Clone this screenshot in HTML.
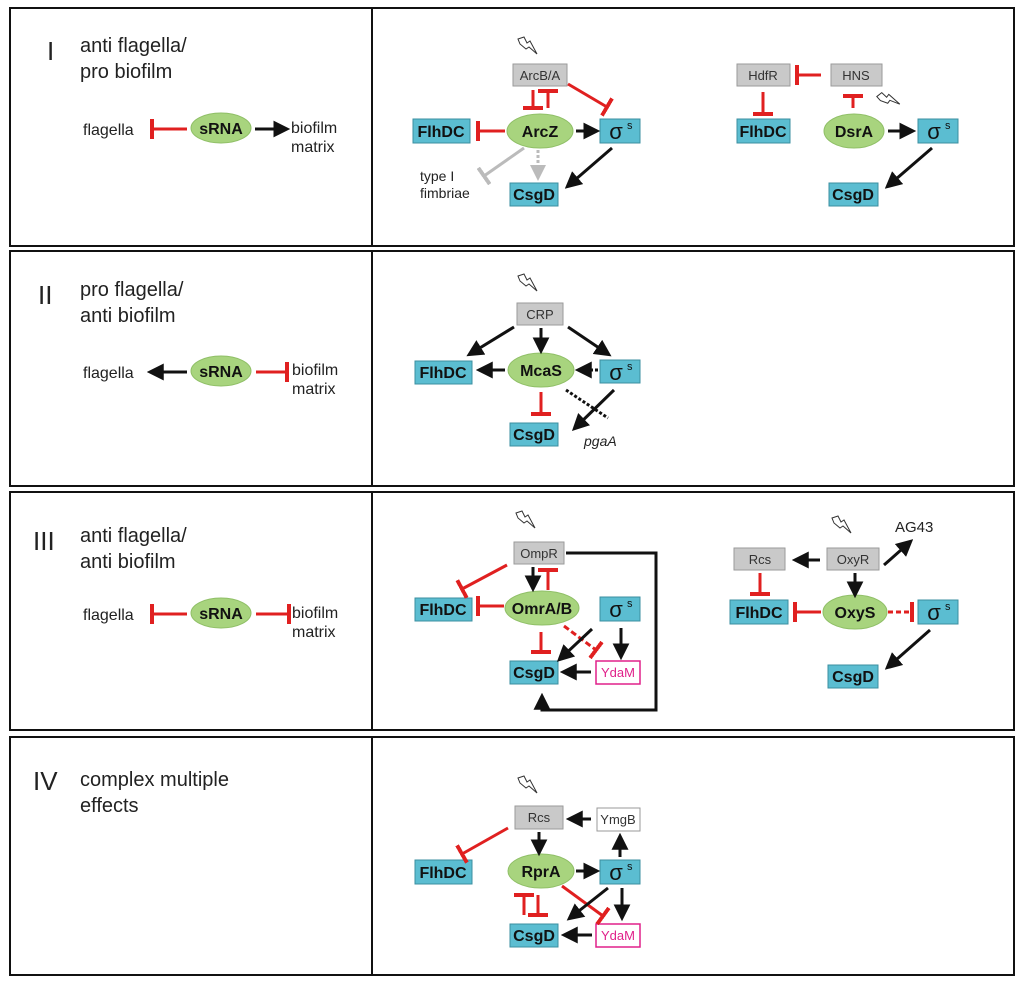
<!DOCTYPE html>
<html><head><meta charset="utf-8"><style>
html,body{margin:0;padding:0;background:#fff}
svg{display:block}
text{font-family:"Liberation Sans",Arial,sans-serif}
.bb{fill:#5bbdd1;stroke:#3b8fa0;stroke-width:1}
.gb{fill:#c9c9c9;stroke:#9a9a9a;stroke-width:1}
.el{fill:#a8d47e;stroke:#8fbf66;stroke-width:1}
.bt{font-size:16px;font-weight:bold;fill:#111;text-anchor:middle}
.gt{font-size:13px;fill:#333;text-anchor:middle}
.a{stroke:#111;stroke-width:3;fill:none;marker-end:url(#ar)}
.t{stroke:#e02020;stroke-width:3;fill:none;marker-end:url(#tb)}
.big{font-size:20px;fill:#222}
.rn{font-size:26px;fill:#222}
.sm{font-size:16px;fill:#222}
</style></head><body>
<svg width="1024" height="986" viewBox="0 0 1024 986" xmlns="http://www.w3.org/2000/svg">
<defs>
<marker id="ar" viewBox="0 0 16 16" refX="12" refY="8" markerWidth="17" markerHeight="17" markerUnits="userSpaceOnUse" orient="auto"><path d="M0,0 L16,8 L0,16 z" fill="#111"/></marker>
<marker id="ag" viewBox="0 0 16 16" refX="12" refY="8" markerWidth="16" markerHeight="16" markerUnits="userSpaceOnUse" orient="auto"><path d="M0,0 L16,8 L0,16 z" fill="#bbb"/></marker>
<marker id="tb" viewBox="0 0 4 20" refX="2" refY="10" markerWidth="4" markerHeight="20" markerUnits="userSpaceOnUse" orient="auto"><rect x="0" y="0" width="4" height="20" fill="#e02020"/></marker>
<marker id="tg" viewBox="0 0 4 20" refX="2" refY="10" markerWidth="4" markerHeight="20" markerUnits="userSpaceOnUse" orient="auto"><rect x="0" y="0" width="4" height="20" fill="#bbb"/></marker>
<symbol id="lg" viewBox="0 0 24 22"><path d="M3,3 L9,1 L12,7 L15,5 L22,18 L14,11 L11,13 L5,8 z" fill="#fff" stroke="#333" stroke-width="1"/></symbol>
</defs>

<g fill="none" stroke="#111" stroke-width="2">
<rect x="10" y="8" width="1004" height="238"/>
<rect x="10" y="251" width="1004" height="235"/>
<rect x="10" y="492" width="1004" height="238"/>
<rect x="10" y="737" width="1004" height="238"/>
<line x1="372" y1="8" x2="372" y2="246"/>
<line x1="372" y1="251" x2="372" y2="486"/>
<line x1="372" y1="492" x2="372" y2="730"/>
<line x1="372" y1="737" x2="372" y2="975"/>
</g>

<!-- Panel I -->
<text x="47" y="60" class="rn">I</text>
<text x="80" y="52" class="big">anti flagella/</text>
<text x="80" y="78" class="big">pro biofilm</text>
<text x="83" y="135" class="sm">flagella</text>
<line x1="187" y1="129" x2="152" y2="129" class="t"/>
<ellipse cx="221" cy="128" rx="30" ry="15" class="el"/><text x="221" y="134" class="bt">sRNA</text>
<line x1="255" y1="129" x2="286" y2="129" class="a"/>
<text x="291" y="133" class="sm">biofilm</text><text x="291" y="152" class="sm">matrix</text>

<use href="#lg" x="515" y="36" width="24" height="22"/>
<rect x="513" y="64" width="54" height="22" class="gb"/><text x="540" y="80" class="gt">ArcB/A</text>
<rect x="413" y="119" width="57" height="24" class="bb"/><text x="441" y="137" class="bt">FlhDC</text>
<ellipse cx="540" cy="131" rx="33" ry="17" class="el"/><text x="540" y="137" class="bt">ArcZ</text>
<rect x="600" y="119" width="40" height="24" class="bb"/><text x="616" y="139" style="font-size:22px;fill:#111;text-anchor:middle">σ</text><text x="627" y="129" style="font-size:11px;fill:#111">s</text>
<rect x="510" y="183" width="48" height="23" class="bb"/><text x="534" y="200" class="bt">CsgD</text>
<text x="420" y="181" class="sm" style="font-size:14px">type I</text><text x="420" y="198" class="sm" style="font-size:14px">fimbriae</text>
<line x1="533" y1="90" x2="533" y2="108" class="t"/>
<line x1="548" y1="108" x2="548" y2="91" class="t"/>
<line x1="568" y1="84" x2="607" y2="107" class="t"/>
<line x1="505" y1="131" x2="478" y2="131" class="t"/>
<line x1="576" y1="131" x2="596" y2="131" class="a"/>
<line x1="524" y1="148" x2="484" y2="176" stroke="#bbb" stroke-width="3" marker-end="url(#tg)"/>
<line x1="538" y1="150" x2="538" y2="177" stroke="#bbb" stroke-width="3" stroke-dasharray="3,2" marker-end="url(#ag)"/>
<line x1="612" y1="148" x2="568" y2="186" class="a"/>

<rect x="737" y="64" width="53" height="22" class="gb"/><text x="763" y="80" class="gt">HdfR</text>
<rect x="831" y="64" width="51" height="22" class="gb"/><text x="856" y="80" class="gt">HNS</text>
<line x1="821" y1="75" x2="797" y2="75" class="t"/>
<line x1="763" y1="92" x2="763" y2="114" class="t"/>
<line x1="853" y1="108" x2="853" y2="96" class="t"/>
<use href="#lg" x="876" y="90" width="24" height="22" transform="rotate(-20 888 101)"/>
<rect x="737" y="119" width="53" height="24" class="bb"/><text x="763" y="137" class="bt">FlhDC</text>
<ellipse cx="854" cy="131" rx="30" ry="17" class="el"/><text x="854" y="137" class="bt">DsrA</text>
<line x1="888" y1="131" x2="912" y2="131" class="a"/>
<rect x="918" y="119" width="40" height="24" class="bb"/><text x="934" y="139" style="font-size:22px;fill:#111;text-anchor:middle">σ</text><text x="945" y="129" style="font-size:11px;fill:#111">s</text>
<rect x="829" y="183" width="49" height="23" class="bb"/><text x="853" y="200" class="bt">CsgD</text>
<line x1="932" y1="148" x2="888" y2="186" class="a"/>

<!-- Panel II -->
<text x="38" y="304" class="rn">II</text>
<text x="80" y="296" class="big">pro flagella/</text>
<text x="80" y="322" class="big">anti biofilm</text>
<text x="83" y="378" class="sm">flagella</text>
<line x1="187" y1="372" x2="151" y2="372" class="a"/>
<ellipse cx="221" cy="371" rx="30" ry="15" class="el"/><text x="221" y="377" class="bt">sRNA</text>
<line x1="256" y1="372" x2="287" y2="372" class="t"/>
<text x="292" y="375" class="sm">biofilm</text><text x="292" y="394" class="sm">matrix</text>

<use href="#lg" x="515" y="273" width="24" height="22"/>
<rect x="517" y="303" width="46" height="22" class="gb"/><text x="540" y="319" class="gt">CRP</text>
<rect x="415" y="361" width="57" height="23" class="bb"/><text x="443" y="378" class="bt">FlhDC</text>
<ellipse cx="541" cy="370" rx="33" ry="17" class="el"/><text x="541" y="376" class="bt">McaS</text>
<rect x="600" y="360" width="40" height="23" class="bb"/><text x="616" y="380" style="font-size:22px;fill:#111;text-anchor:middle">σ</text><text x="627" y="370" style="font-size:11px;fill:#111">s</text>
<rect x="510" y="423" width="48" height="23" class="bb"/><text x="534" y="440" class="bt">CsgD</text>
<text x="584" y="446" style="font-size:14px;font-style:italic;fill:#222">pgaA</text>
<line x1="514" y1="327" x2="470" y2="354" class="a"/>
<line x1="541" y1="328" x2="541" y2="350" class="a"/>
<line x1="568" y1="327" x2="608" y2="354" class="a"/>
<line x1="505" y1="370" x2="480" y2="370" class="a"/>
<line x1="598" y1="370" x2="579" y2="370" stroke="#111" stroke-width="3" stroke-dasharray="3,2" marker-end="url(#ar)"/>
<line x1="541" y1="392" x2="541" y2="414" class="t"/>
<line x1="566" y1="390" x2="608" y2="418" stroke="#111" stroke-width="3" stroke-dasharray="3,2"/>
<line x1="614" y1="390" x2="575" y2="428" class="a"/>

<!-- Panel III -->
<text x="33" y="550" class="rn">III</text>
<text x="80" y="542" class="big">anti flagella/</text>
<text x="80" y="568" class="big">anti biofilm</text>
<text x="83" y="620" class="sm">flagella</text>
<line x1="187" y1="614" x2="152" y2="614" class="t"/>
<ellipse cx="221" cy="613" rx="30" ry="15" class="el"/><text x="221" y="619" class="bt">sRNA</text>
<line x1="256" y1="614" x2="289" y2="614" class="t"/>
<text x="292" y="618" class="sm">biofilm</text><text x="292" y="637" class="sm">matrix</text>

<use href="#lg" x="513" y="510" width="24" height="22"/>
<rect x="514" y="542" width="50" height="22" class="gb"/><text x="539" y="558" class="gt">OmpR</text>
<rect x="415" y="598" width="57" height="23" class="bb"/><text x="443" y="615" class="bt">FlhDC</text>
<ellipse cx="542" cy="608" rx="37" ry="17" class="el"/><text x="542" y="614" class="bt">OmrA/B</text>
<rect x="600" y="597" width="40" height="24" class="bb"/><text x="616" y="617" style="font-size:22px;fill:#111;text-anchor:middle">σ</text><text x="627" y="607" style="font-size:11px;fill:#111">s</text>
<rect x="510" y="661" width="48" height="23" class="bb"/><text x="534" y="678" class="bt">CsgD</text>
<rect x="596" y="661" width="44" height="23" fill="#fff" stroke="#e0208a" stroke-width="1.5"/><text x="618" y="677" style="font-size:13px;fill:#e0208a;text-anchor:middle">YdaM</text>
<polyline points="566,553 656,553 656,710 542,710 542,697" stroke="#111" stroke-width="3" fill="none" marker-end="url(#ar)"/>
<line x1="533" y1="567" x2="533" y2="588" class="a"/>
<line x1="548" y1="590" x2="548" y2="570" class="t"/>
<line x1="507" y1="565" x2="462" y2="589" class="t"/>
<line x1="504" y1="606" x2="478" y2="606" class="t"/>
<line x1="541" y1="632" x2="541" y2="652" class="t"/>
<line x1="564" y1="626" x2="596" y2="650" stroke="#e02020" stroke-width="3" stroke-dasharray="6,3" marker-end="url(#tb)"/>
<line x1="592" y1="629" x2="560" y2="659" class="a"/>
<line x1="621" y1="628" x2="621" y2="656" class="a"/>
<line x1="591" y1="672" x2="564" y2="672" class="a"/>

<use href="#lg" x="829" y="515" width="24" height="22"/>
<text x="895" y="532" style="font-size:15px;fill:#222">AG43</text>
<rect x="734" y="548" width="51" height="22" class="gb"/><text x="760" y="564" class="gt">Rcs</text>
<rect x="827" y="548" width="52" height="22" class="gb"/><text x="853" y="564" class="gt">OxyR</text>
<rect x="730" y="600" width="58" height="24" class="bb"/><text x="759" y="618" class="bt">FlhDC</text>
<ellipse cx="855" cy="612" rx="32" ry="17" class="el"/><text x="855" y="618" class="bt">OxyS</text>
<rect x="918" y="600" width="40" height="24" class="bb"/><text x="934" y="620" style="font-size:22px;fill:#111;text-anchor:middle">σ</text><text x="945" y="610" style="font-size:11px;fill:#111">s</text>
<rect x="828" y="665" width="50" height="23" class="bb"/><text x="853" y="682" class="bt">CsgD</text>
<line x1="820" y1="560" x2="796" y2="560" class="a"/>
<line x1="884" y1="565" x2="910" y2="542" class="a"/>
<line x1="855" y1="573" x2="855" y2="594" class="a"/>
<line x1="760" y1="573" x2="760" y2="594" class="t"/>
<line x1="821" y1="612" x2="795" y2="612" class="t"/>
<line x1="888" y1="612" x2="912" y2="612" stroke="#e02020" stroke-width="3" stroke-dasharray="5,3" marker-end="url(#tb)"/>
<line x1="930" y1="630" x2="888" y2="667" class="a"/>

<!-- Panel IV -->
<text x="33" y="790" class="rn">IV</text>
<text x="80" y="786" class="big">complex multiple</text>
<text x="80" y="812" class="big">effects</text>

<use href="#lg" x="515" y="775" width="24" height="22"/>
<rect x="515" y="806" width="48" height="23" class="gb"/><text x="539" y="822" class="gt">Rcs</text>
<rect x="597" y="808" width="43" height="23" fill="#fff" stroke="#999" stroke-width="1"/><text x="618" y="824" class="gt">YmgB</text>
<rect x="415" y="860" width="57" height="24" class="bb"/><text x="443" y="878" class="bt">FlhDC</text>
<ellipse cx="541" cy="871" rx="33" ry="17" class="el"/><text x="541" y="877" class="bt">RprA</text>
<rect x="600" y="860" width="40" height="24" class="bb"/><text x="616" y="880" style="font-size:22px;fill:#111;text-anchor:middle">σ</text><text x="627" y="870" style="font-size:11px;fill:#111">s</text>
<rect x="510" y="924" width="48" height="23" class="bb"/><text x="534" y="941" class="bt">CsgD</text>
<rect x="596" y="924" width="44" height="23" fill="#fff" stroke="#e0208a" stroke-width="1.5"/><text x="618" y="940" style="font-size:13px;fill:#e0208a;text-anchor:middle">YdaM</text>
<line x1="539" y1="832" x2="539" y2="852" class="a"/>
<line x1="591" y1="819" x2="570" y2="819" class="a"/>
<line x1="620" y1="857" x2="620" y2="837" class="a"/>
<line x1="576" y1="871" x2="596" y2="871" class="a"/>
<line x1="508" y1="828" x2="462" y2="854" class="t"/>
<line x1="524" y1="915" x2="524" y2="895" class="t"/>
<line x1="538" y1="895" x2="538" y2="915" class="t"/>
<line x1="562" y1="886" x2="603" y2="916" class="t"/>
<line x1="608" y1="888" x2="570" y2="918" class="a"/>
<line x1="622" y1="888" x2="622" y2="917" class="a"/>
<line x1="592" y1="935" x2="565" y2="935" class="a"/>
</svg>
</body></html>
